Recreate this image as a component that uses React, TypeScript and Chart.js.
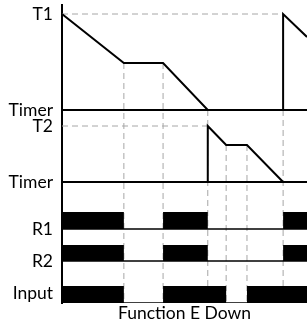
import React, { useEffect, useRef } from 'react';
import { Chart, registerables } from 'chart.js';

Chart.register(...registerables);

// ---- data (time in arbitrary units, level in lane units) ----
const timeEnd = 20;
const timer1Times = [0, 5.05, 8.25, 11.9, 18.05, 18.05, 20];
const timer1Values = [28.9, 24.0, 24.0, 19.3, 19.3, 28.9, 26.6];
const timer2Times = [11.9, 11.9, 13.4, 15.1, 18.05];
const timer2Values = [12.1, 17.7, 15.8, 15.8, 12.1];

const r1Edges = [0, 5.05, 8.25, 11.9, 18.05, 20];
const r1States = [1, 0, 1, 0, 1];
const r2Edges = [0, 5.05, 8.25, 11.9, 18.05, 20];
const r2States = [1, 0, 1, 0, 1];
const inputEdges = [0, 5.05, 8.25, 13.4, 15.1, 20];
const inputStates = [1, 0, 1, 0, 1];

const pulseLows = [7.4, 4.2, 0];
const pulseHighs = [9.1, 5.8, 1.7];

const guideTimes = [5.05, 8.25, 11.9, 13.4, 15.1, 18.05];
const guideTops = [24.0, 24.0, 19.3, 15.8, 15.8, 19.3];
const levelGuideValues = [28.9, 17.7];
const levelGuideEnds = [18.05, 11.9];

const baselineLevels = [19.3, 12.1, 7.4, 4.2, 0];
const baselineWidths = [2, 2, 1.5, 1.5, 1.5];

const rowLabels = ['T1', 'Timer', 'T2', 'Timer', 'R1', 'R2', 'Input'];
const rowLevels = [28.9, 19.3, 17.7, 12.1, 7.4, 4.2, 1.0];
const xTitle = 'Function E Down';

const FONT = 'Lato';
const GUIDE = '#a6a6a6';

function pulse(edges: number[], states: number[], lo: number, hi: number) {
  const pts: { x: number; y: number }[] = [];
  for (let i = 0; i < states.length; i++) {
    const y = states[i] ? hi : lo;
    pts.push({ x: edges[i], y });
    pts.push({ x: edges[i + 1], y });
  }
  return pts;
}

export default function App() {
  const ref = useRef<HTMLCanvasElement | null>(null);
  useEffect(() => {
    document.body.style.margin = '0';
    const canvas = ref.current!;
    const datasets: any[] = [];
    const solid = (data: any[], width: number) => ({
      data,
      borderColor: '#000',
      borderWidth: width,
      pointRadius: 0,
      tension: 0,
      fill: false,
      order: 0,
    });
    datasets.push(solid(timer1Times.map((x, i) => ({ x, y: timer1Values[i] })), 2));
    datasets.push(solid(timer2Times.map((x, i) => ({ x, y: timer2Values[i] })), 2));
    baselineLevels.forEach((lv, i) =>
      datasets.push(solid([{ x: 0, y: lv }, { x: timeEnd, y: lv }], baselineWidths[i]))
    );
    const pulses = [
      [r1Edges, r1States],
      [r2Edges, r2States],
      [inputEdges, inputStates],
    ];
    pulses.forEach(([e, s], i) =>
      datasets.push({
        data: pulse(e as number[], s as number[], pulseLows[i], pulseHighs[i]),
        borderColor: 'rgba(0,0,0,0)',
        borderWidth: 1,
        backgroundColor: '#000',
        pointRadius: 0,
        tension: 0,
        fill: { value: pulseLows[i] },
        order: 1,
      })
    );
    guideTimes.forEach((t, i) =>
      datasets.push({
        data: [{ x: t, y: guideTops[i] }, { x: t, y: 0 }],
        borderColor: GUIDE,
        borderWidth: 1,
        borderDash: [6, 4],
        pointRadius: 0,
        fill: false,
        order: 2,
      })
    );
    levelGuideValues.forEach((v, i) =>
      datasets.push({
        data: [{ x: 0, y: v }, { x: levelGuideEnds[i], y: v }],
        borderColor: GUIDE,
        borderWidth: 1,
        borderDash: [6, 4],
        pointRadius: 0,
        fill: false,
        order: 2,
      })
    );

    const chart = new Chart(canvas, {
      type: 'line',
      data: { datasets },
      options: {
        animation: false,
        responsive: false,
        layout: { padding: { top: 5, left: 0, right: 0, bottom: 0 } },
        plugins: { legend: { display: false }, tooltip: { enabled: false } },
        scales: {
          x: {
            type: 'linear',
            min: 0,
            max: timeEnd,
            grid: { display: false, drawTicks: false },
            border: { display: false },
            ticks: { display: false },
            title: {
              display: true,
              text: xTitle,
              color: '#000',
              font: { family: FONT, size: 17.5 },
              padding: { top: 0, bottom: -1 },
            },
            afterFit: (axis: any) => {
              axis.height = 20;
              axis.paddingLeft = 0;
              axis.paddingRight = 0;
            },
          },
          y: {
            type: 'linear',
            min: 0,
            max: 29.8,
            grid: { display: false, drawTicks: false },
            border: { display: true, color: '#000', width: 2 },
            ticks: {
              autoSkip: false,
              color: '#000',
              padding: 9,
              font: { family: FONT, size: 17.5 },
              callback: (_v: any, idx: number) => rowLabels[idx],
            },
            afterBuildTicks: (axis: any) => {
              axis.ticks = rowLevels.map((v) => ({ value: v }));
            },
            afterFit: (axis: any) => {
              axis.width = 62;
              axis.paddingTop = 0;
              axis.paddingBottom = 0;
            },
          },
        },
      },
    });
    return () => chart.destroy();
  }, []);
  return (
    <div style={{ width: 307, height: 323 }}>
      <canvas ref={ref} width={307} height={323} />
    </div>
  );
}
